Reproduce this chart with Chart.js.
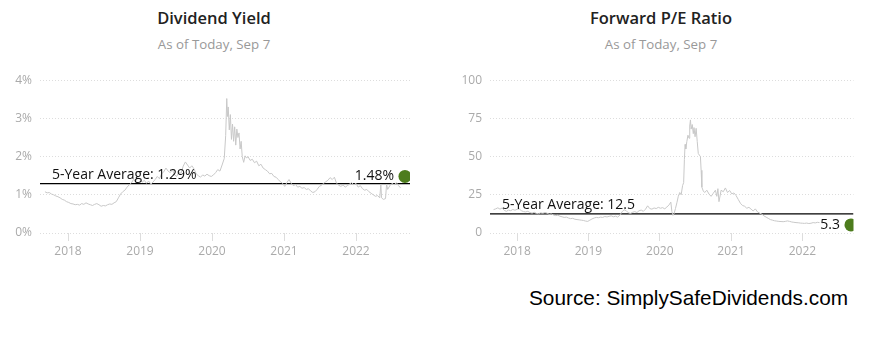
<!DOCTYPE html>
<html>
<head>
<meta charset="utf-8">
<script src="https://cdn.jsdelivr.net/npm/chart.js@4.4.0/dist/chart.umd.min.js"></script>
<style>
  body { margin:0; background:#fff; width:895px; height:361px; position:relative; overflow:hidden; font-family:"Open Sans", sans-serif; }
  .title { position:absolute; width:300px; text-align:center; font-size:16.5px; font-weight:600; color:#222; }
  .sub { position:absolute; width:300px; text-align:center; font-size:13.3px; color:#999; }
  canvas { position:absolute; }
  #source { position:absolute; left:529px; top:286px; font-family:"Liberation Sans", Arial, sans-serif; font-size:20.8px; color:#000; }
</style>
</head>
<body>
<div class="title" style="left:64px;top:6px">Dividend Yield</div>
<div class="sub" style="left:64px;top:35px">As of Today, Sep 7</div>
<div class="title" style="left:511px;top:6px">Forward P/E Ratio</div>
<div class="sub" style="left:511px;top:35px">As of Today, Sep 7</div>
<canvas id="yieldChart" width="420" height="198" style="left:0;top:65px"></canvas>
<canvas id="peChart" width="410" height="198" style="left:450px;top:65px"></canvas>
<div id="source">Source: SimplySafeDividends.com</div>
<script>
// year ticks on both x axes
const yearTicks = [2018, 2019, 2020, 2021, 2022];
const yieldTicks = [0, 1, 2, 3, 4];
const peTicks = [0, 25, 50, 75, 100];

const yieldAvg = 1.29, yieldNow = 1.48;
const peAvg = 12.5, peNow = 5.3;
const nowDate = 2022.68;

// dividend yield (%), dates as decimal years
const yieldX = [
  2017.68,2017.71,2017.74,2017.77,2017.80,2017.83,2017.86,2017.89,2017.92,2017.95,
  2017.98,2018.01,2018.04,2018.07,2018.10,2018.13,2018.16,2018.19,2018.22,2018.25,
  2018.28,2018.31,2018.34,2018.37,2018.40,2018.43,2018.46,2018.49,2018.52,2018.55,
  2018.58,2018.61,2018.64,2018.67,2018.70,2018.73,2018.76,2018.79,2018.82,2018.85,
  2018.88,2018.91,2018.94,2018.97,2019.00,2019.03,2019.06,2019.09,2019.12,2019.15,
  2019.18,2019.21,2019.24,2019.27,2019.30,2019.33,2019.36,2019.39,2019.42,2019.45,
  2019.48,2019.51,2019.54,2019.57,2019.60,2019.63,2019.66,2019.69,2019.72,2019.75,
  2019.78,2019.81,2019.84,2019.87,2019.90,2019.93,2019.96,2019.99,2020.02,2020.05,
  2020.08,2020.11,2020.14,2020.17,2020.19,2020.205,2020.215,2020.225,2020.24,2020.255,
  2020.27,2020.285,2020.30,2020.315,2020.33,2020.345,2020.36,2020.375,2020.39,2020.405,
  2020.42,2020.44,2020.46,2020.48,2020.50,2020.53,2020.56,2020.59,2020.62,2020.65,
  2020.68,2020.71,2020.74,2020.77,2020.80,2020.83,2020.86,2020.89,2020.92,2020.95,
  2020.98,2021.01,2021.04,2021.07,2021.10,2021.13,2021.16,2021.19,2021.22,2021.25,
  2021.28,2021.31,2021.34,2021.37,2021.40,2021.43,2021.46,2021.49,2021.52,2021.55,
  2021.58,2021.61,2021.64,2021.67,2021.70,2021.73,2021.76,2021.79,2021.82,2021.85,
  2021.88,2021.91,2021.94,2021.97,2022.00,2022.03,2022.06,2022.09,2022.12,2022.15,
  2022.18,2022.21,2022.24,2022.27,2022.30,2022.33,2022.345,2022.355,2022.38,2022.41,
  2022.425,2022.44,2022.47,2022.50,2022.53,2022.56,2022.59,2022.62
];
const yieldY = [
  1.08,1.05,1.06,1.02,1.00,0.97,0.95,0.92,0.88,0.86,
  0.82,0.80,0.77,0.76,0.74,0.75,0.73,0.77,0.75,0.79,
  0.76,0.74,0.72,0.75,0.77,0.74,0.70,0.72,0.71,0.74,
  0.76,0.75,0.79,0.82,0.92,1.02,1.08,1.12,1.20,1.26,
  1.31,1.40,1.36,1.45,1.40,1.33,1.38,1.30,1.36,1.28,
  1.33,1.40,1.48,1.42,1.55,1.60,1.70,1.62,1.58,1.66,
  1.52,1.48,1.60,1.56,1.75,1.86,1.78,1.70,1.76,1.68,
  1.55,1.50,1.46,1.52,1.49,1.54,1.50,1.48,1.52,1.58,
  1.66,1.62,1.78,1.95,2.55,3.52,3.05,3.30,2.70,3.10,
  2.45,2.85,2.40,2.78,2.30,2.72,2.50,2.62,2.20,2.40,
  2.00,1.85,2.02,1.96,2.00,1.90,1.93,1.84,1.88,1.76,
  1.80,1.70,1.66,1.62,1.55,1.56,1.48,1.46,1.40,1.34,
  1.30,1.22,1.32,1.40,1.30,1.24,1.27,1.20,1.22,1.17,
  1.19,1.14,1.16,1.10,1.06,1.08,1.14,1.22,1.25,1.30,
  1.34,1.38,1.45,1.40,1.46,1.30,1.25,1.22,1.26,1.20,
  1.24,1.28,1.32,1.26,1.30,1.20,1.24,1.16,1.12,1.14,
  1.08,1.04,1.00,0.96,0.98,0.92,1.28,0.92,0.88,0.90,
  1.28,1.14,1.24,1.30,1.26,1.32,1.24,1.18
];

// forward P/E ratio
const peX = [
  2017.67,2017.70,2017.73,2017.76,2017.79,2017.82,2017.85,2017.88,2017.91,2017.94,
  2017.97,2018.00,2018.03,2018.06,2018.09,2018.12,2018.15,2018.18,2018.21,2018.24,
  2018.27,2018.30,2018.33,2018.36,2018.39,2018.42,2018.45,2018.48,2018.51,2018.54,
  2018.57,2018.60,2018.63,2018.66,2018.69,2018.72,2018.75,2018.78,2018.81,2018.84,
  2018.87,2018.90,2018.93,2018.96,2018.99,2019.02,2019.05,2019.08,2019.11,2019.14,
  2019.17,2019.20,2019.23,2019.26,2019.29,2019.32,2019.35,2019.38,2019.41,2019.44,
  2019.47,2019.50,2019.53,2019.56,2019.59,2019.62,2019.65,2019.68,2019.71,2019.74,
  2019.77,2019.80,2019.83,2019.86,2019.89,2019.92,2019.95,2019.98,2020.01,2020.04,
  2020.07,2020.10,2020.13,2020.155,2020.17,2020.185,2020.20,2020.22,2020.24,2020.26,
  2020.28,2020.30,2020.32,2020.335,2020.345,2020.355,2020.365,2020.38,2020.395,2020.41,
  2020.42,2020.43,2020.44,2020.455,2020.47,2020.48,2020.495,2020.51,2020.525,2020.54,
  2020.555,2020.57,2020.58,2020.59,2020.61,2020.63,2020.66,2020.69,2020.72,2020.75,
  2020.78,2020.80,2020.815,2020.83,2020.86,2020.89,2020.92,2020.95,2020.98,2021.01,
  2021.04,2021.07,2021.10,2021.13,2021.16,2021.19,2021.22,2021.25,2021.28,2021.31,
  2021.34,2021.37,2021.40,2021.43,2021.46,2021.49,2021.52,2021.55,2021.58,2021.61,
  2021.64,2021.67,2021.70,2021.73,2021.76,2021.79,2021.82,2021.85,2021.88,2021.91,
  2021.94,2021.97,2022.00,2022.03,2022.06,2022.09,2022.12,2022.15,2022.18,2022.21,
  2022.24
];
const peY = [
  15.3,15.8,16.5,15.6,16.4,14.8,14.2,15.0,14.6,15.4,
  14.9,15.5,15.8,14.6,14.0,13.8,14.2,13.4,13.0,13.6,
  12.8,12.6,13.2,12.9,13.4,13.0,12.2,12.5,11.8,11.4,
  11.6,11.0,10.6,10.2,10.4,9.8,9.4,9.6,9.0,8.8,
  8.6,8.4,8.2,7.8,7.6,8.4,9.2,9.8,10.2,10.0,
  10.4,10.2,10.8,10.5,10.9,11.2,10.6,11.0,10.4,11.6,
  13.8,15.2,14.6,13.2,12.8,13.6,14.0,13.4,14.6,15.0,
  14.2,15.6,17.8,16.0,15.6,16.4,16.0,16.8,16.2,16.6,
  15.8,17.0,18.4,20.2,14.0,11.5,12.6,16.0,19.8,24.0,
  26.5,25.0,31.0,33.0,48.0,58.0,55.0,60.0,64.0,62.0,
  70.0,74.0,68.0,71.0,65.0,69.0,63.0,68.5,60.0,52.0,
  51.0,50.0,41.0,30.0,27.5,26.5,28.0,25.5,24.0,26.0,
  28.0,24.0,29.0,20.5,28.0,27.0,29.5,26.5,27.8,25.6,
  26.2,24.5,22.0,19.5,18.0,17.5,16.2,16.8,15.6,14.4,
  15.8,13.8,13.0,12.4,11.2,10.4,9.6,8.8,8.4,8.0,
  7.8,7.6,7.5,7.4,7.6,7.9,7.6,7.2,7.0,6.8,
  6.7,6.5,6.4,6.3,6.5,6.2,6.4,6.8,6.6,7.0,
  6.8
];

const labelPlugin = {
  id: 'labels',
  afterDatasetsDraw(chart, args, o) {
    const {ctx, chartArea, scales:{x, y}} = chart;
    ctx.save();
    ctx.fillStyle = '#111';
    ctx.font = '14px "Open Sans", sans-serif';
    ctx.textBaseline = 'alphabetic';
    ctx.textAlign = 'left';
    ctx.fillText('5-Year Average: ' + o.avgText, chartArea.left + 12, y.getPixelForValue(o.avg) - 5);
    ctx.textAlign = 'right';
    ctx.textBaseline = 'middle';
    ctx.fillText(o.nowText, x.getPixelForValue(nowDate) - 11, y.getPixelForValue(o.now));
    ctx.restore();
  }
};

function makeChart(id, xs, ys, yTicks, suffix, avg, now, xmin, xmax, padRight){
  return new Chart(document.getElementById(id), {
    type: 'line',
    data: { datasets: [
      { data: xs.map((v,i) => ({x:v, y:ys[i]})), borderColor:'#c8c8c8', borderWidth:1, pointRadius:0, tension:0 },
      { data: [{x:xmin, y:avg}, {x:xmax, y:avg}], borderColor:'#000', borderWidth:1.2, pointRadius:0 },
      { data: [{x:nowDate, y:now}], showLine:false, pointRadius:6.5, pointBackgroundColor:'#4d7c1d', pointBorderWidth:0 }
    ]},
    options: {
      responsive:false, animation:false,
      layout:{ padding:{ top:12, right:padRight, left:0, bottom:0 } },
      plugins:{ legend:{display:false}, tooltip:{enabled:false},
        labels:{ avg, now, avgText: avg + suffix, nowText: now + suffix } },
      scales:{
        x:{ type:'linear', min:xmin, max:xmax,
          afterBuildTicks: s => { s.ticks = yearTicks.map(v => ({value:v})); },
          afterFit: s => { s.height = 30; },
          grid:{ drawOnChartArea:false, tickLength:8, color:'#ddd' },
          border:{ display:false },
          ticks:{ color:'#aaa', font:{ size:12, family:'"Open Sans", sans-serif' }, padding:3, maxRotation:0, callback: v => String(v) } },
        y:{ min:yTicks[0], max:yTicks[yTicks.length-1],
          afterBuildTicks: s => { s.ticks = yTicks.map(v => ({value:v})); },
          afterFit: s => { s.width = 40; },
          grid:{ drawTicks:false, color:'#ddd' },
          border:{ display:false, dash:[1,2] },
          ticks:{ color:'#aaa', font:{ size:12, family:'"Open Sans", sans-serif' }, padding:8, callback: v => v + suffix } }
      }
    },
    plugins:[labelPlugin]
  });
}

makeChart('yieldChart', yieldX, yieldY, yieldTicks, '%', yieldAvg, yieldNow, 2017.611, 2022.75, 10);
makeChart('peChart', peX, peY, peTicks, '', peAvg, peNow, 2017.62, 2022.716, 5);
</script>
</body>
</html>
